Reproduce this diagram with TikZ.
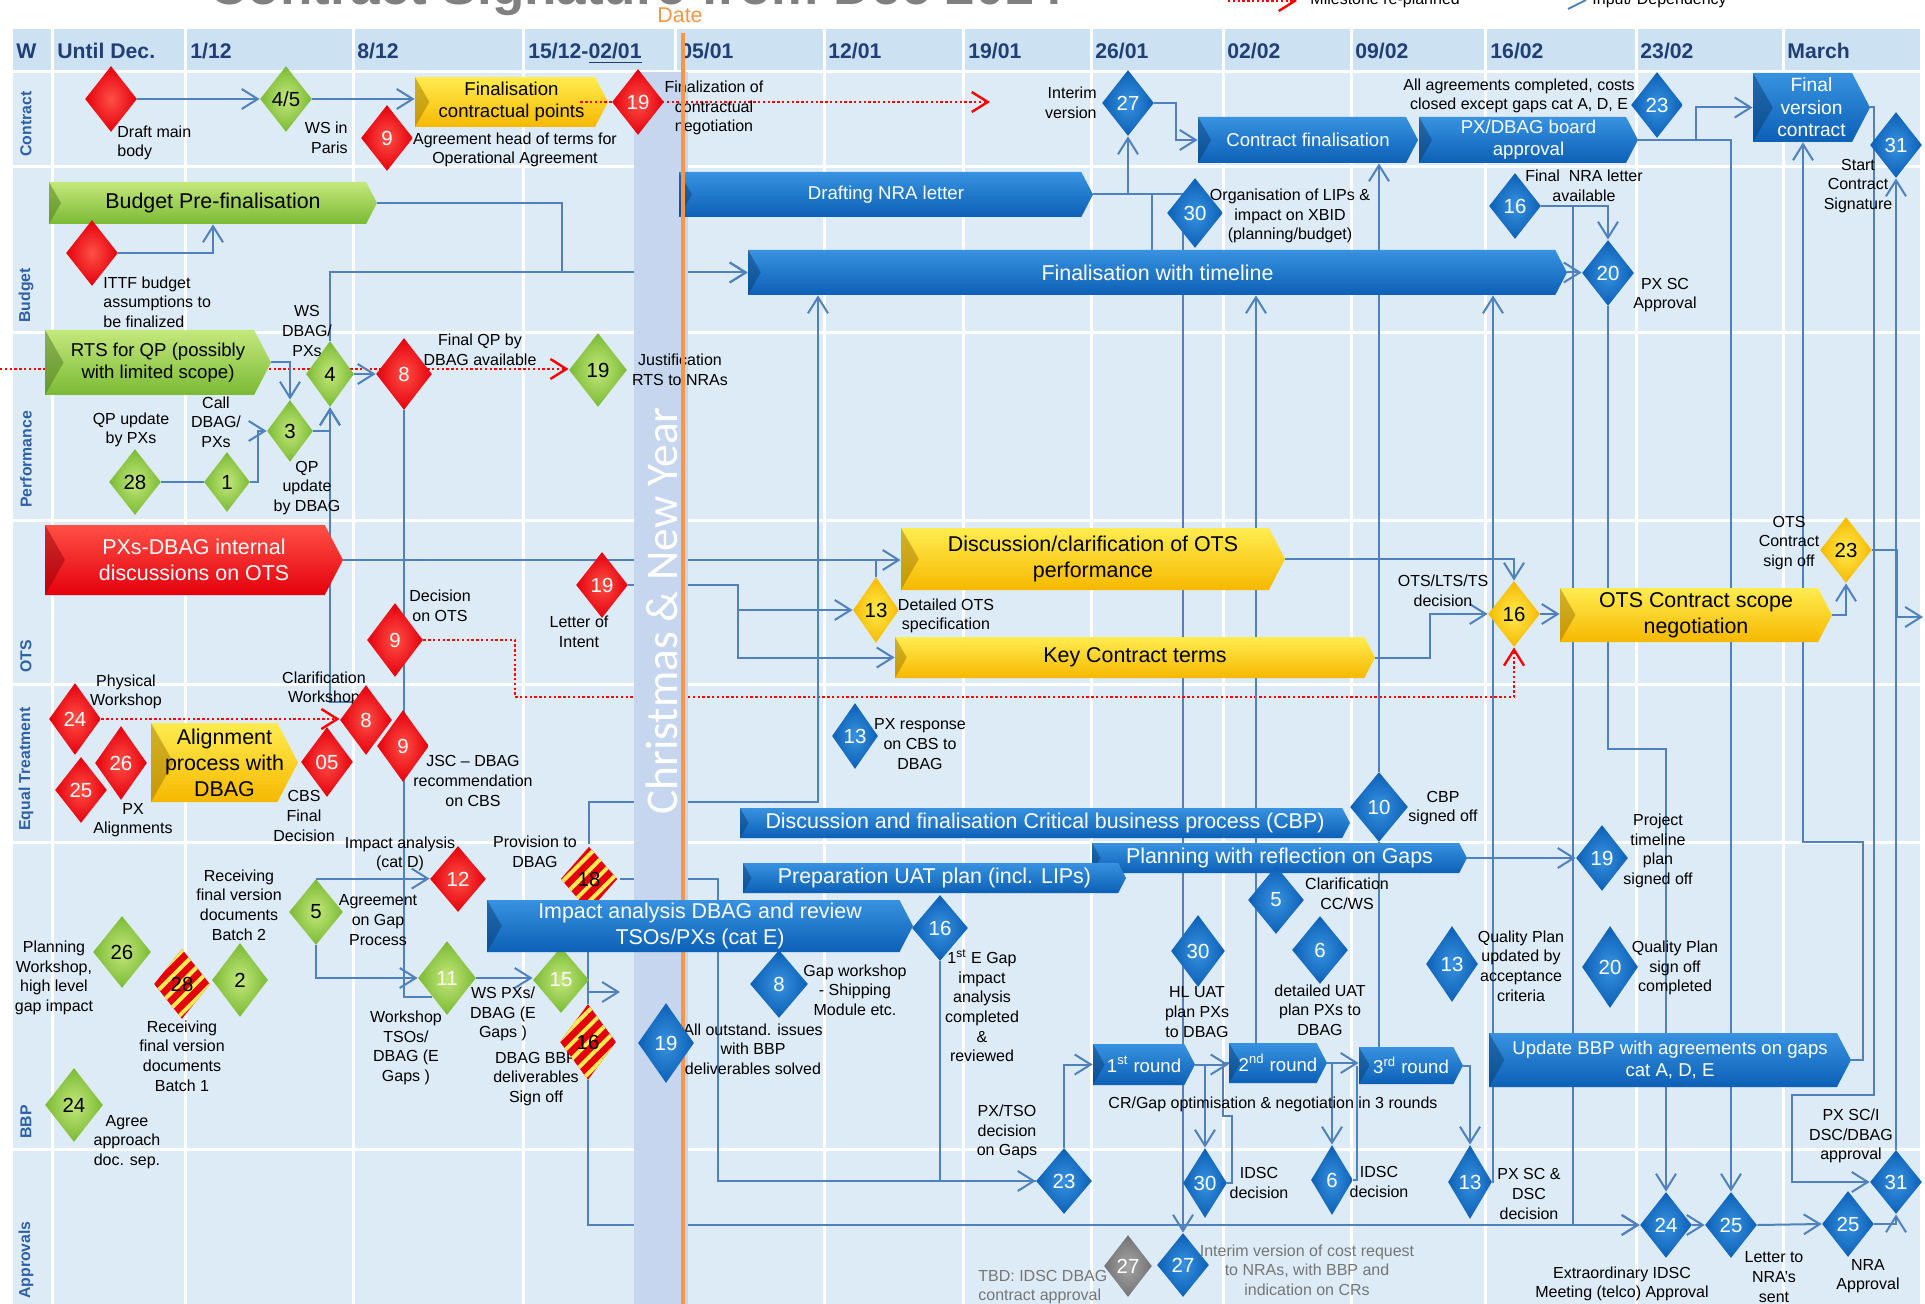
\documentclass[tikz,border=0pt]{standalone}
\usepackage{fontspec}
\setmainfont{Liberation Sans}
\newfontfamily\calibfont{Carlito}
\usetikzlibrary{shapes.geometric,arrows.meta,patterns.meta,calc}
\definecolor{depc}{RGB}{79,129,189}
\definecolor{cellc}{RGB}{221,235,246}
\definecolor{hcellc}{RGB}{204,225,241}
\definecolor{bandc}{RGB}{197,214,238}
\definecolor{navyc}{RGB}{31,63,118}
\definecolor{rowc}{RGB}{46,96,166}
\definecolor{orngc}{RGB}{247,150,70}
\definecolor{rdA}{RGB}{255,80,70}
\definecolor{rdB}{RGB}{228,0,12}
\definecolor{grA}{RGB}{196,232,124}
\definecolor{grB}{RGB}{122,186,52}
\definecolor{blA}{RGB}{56,146,224}
\definecolor{blB}{RGB}{12,96,182}
\definecolor{ylA}{RGB}{255,236,80}
\definecolor{ylB}{RGB}{246,184,0}
\definecolor{gyA}{RGB}{165,165,165}
\definecolor{gyB}{RGB}{115,115,115}
\definecolor{grayt}{RGB}{118,118,118}
\pgfdeclarelayer{bg}\pgfdeclarelayer{lines}\pgfdeclarelayer{band}\pgfdeclarelayer{top}
\pgfsetlayers{bg,lines,band,main,top}
\newcommand\lblf{\fontsize{8}{9.8}\selectfont}
\newcommand\numf{\fontsize{10.2}{12}\selectfont}
\newcommand\barf{\fontsize{10.7}{13}\selectfont}
\newcommand\barsf{\fontsize{9.3}{11}\selectfont}
\newcommand\hdrf{\bfseries\fontsize{10.6}{12}\selectfont}
\newcommand\rowf{\bfseries\fontsize{7.9}{9}\selectfont}
\newcommand\chev[8]{%
  \pgfmathsetmacro\mychd{(#5-#4)*0.26}%
  \path[top color=#6A, bottom color=#6B] (#2,#4) -- ({#3-\mychd},#4) -- (#3,{(#4+#5)/2}) -- ({#3-\mychd},#5) -- (#2,#5) -- cycle;
  \fill[#6B!60!black, opacity=0.45] (#2,#4) -- ({#2+1.1*\mychd},{#4+0.5*(#5-#4)}) -- (#2,#5) -- cycle;
  \node[#7, minimum width={(#3-#2)*0.5pt}, minimum height={(#5-#4)*0.5pt}] (#1) at ({(#2+#3)/2},{(#4+#5)/2}) {#8};
}
\tikzset{
  dep/.style={draw=depc, line width=1pt, -{Straight Barb[length=8pt,width=10pt]}},
  depn/.style={draw=depc, line width=1pt},
  miles/.style={draw=red, line width=1.2pt, dash pattern=on 1.2pt off 1.2pt, -{Straight Barb[length=8pt,width=10pt]}},
  milesn/.style={draw=red, line width=1.2pt, dash pattern=on 1.2pt off 1.2pt},
  dia/.style={shape=diamond, inner sep=0pt, minimum width=26pt, minimum height=33pt, font=\numf},
  rdia/.style={dia, inner color=rdA, outer color=rdB, text=white},
  gdia/.style={dia, inner color=grA, outer color=grB, text=black},
  gwdia/.style={gdia, text=white},
  bdia/.style={dia, inner color=blA, outer color=blB, text=white},
  ydia/.style={dia, inner color=ylA, outer color=ylB, text=black},
  kdia/.style={dia, inner color=gyA, outer color=gyB, text=white},
  sdia/.style={dia, preaction={fill=rdB}, pattern={Lines[angle=45,distance=5.5pt,line width=2pt]}, pattern color=ylA, text=black},
  lbl/.style={font=\lblf, align=center, inner sep=0pt, text=black},
  btw/.style={inner sep=0pt, align=center, text=white, font=\barf},
  btk/.style={inner sep=0pt, align=center, text=black, font=\barf},
  hdr/.style={font=\hdrf, text=navyc, anchor=base west, inner sep=0pt},
  rowl/.style={font=\rowf, text=rowc, rotate=90, anchor=west, inner sep=0pt},
}
\begin{document}
\begin{tikzpicture}[x=0.5pt,y=-0.5pt]
\useasboundingbox (0,0) rectangle (1925,1304);
% ---------- background grid
\begin{pgfonlayer}{bg}
\fill[white] (0,0) rectangle (1925,1304);
\fill[cellc] (13,29) rectangle (1920,1304);
\fill[hcellc] (13,29) rectangle (1920,72);
\foreach \x in {52,185,353,523,675,824,963,1091,1223,1351,1485,1636,1783}
  \draw[white, line width=1.5pt] (\x,29) -- (\x,1304);
\foreach \y in {72,167,333,520,684,842,1149}
  \draw[white, line width=1.5pt] (13,\y) -- (1920,\y);
\end{pgfonlayer}
% ---------- title and legend (cut at top)
\node[anchor=base west, inner sep=0pt, text=gray, font=\bfseries\fontsize{26.5}{30}\selectfont] (ttl) at (209,5) {Contract Signature from Dec 2014};
\coordinate (lg1) at (1228,1);
\coordinate (lg2) at (1297,1);
\draw[miles] (lg1) -- (lg2);
\node[lbl, anchor=base west] (lgt1) at (1310,5) {Milestone re-planned};
\coordinate (lg3) at (1568,9);
\coordinate (lg4) at (1586,0);
\draw[depn] (lg3) -- (lg4);
\node[lbl, anchor=base west] (lgt2) at (1592,5) {Input/ Dependency};
% ---------- header
\node[hdr] (h0) at (16,59) {W};
\node[hdr] (h1) at (57,59) {Until Dec.};
\node[hdr] (h2) at (190,59) {1/12};
\node[hdr] (h3) at (357,59) {8/12};
\node[hdr] (h4) at (528,59) {15/12-\underline{02/01}};
\node[hdr] (h5) at (680,59) {05/01};
\node[hdr] (h6) at (828,59) {12/01};
\node[hdr] (h7) at (968,59) {19/01};
\node[hdr] (h8) at (1095,59) {26/01};
\node[hdr] (h9) at (1227,59) {02/02};
\node[hdr] (h10) at (1355,59) {09/02};
\node[hdr] (h11) at (1490,59) {16/02};
\node[hdr] (h12) at (1640,59) {23/02};
\node[hdr] (h13) at (1787,59) {March};
% ---------- row labels
\node[rowl] (rl1) at (26,157) {Contract};
\node[rowl] (rl2) at (26,323) {Budget};
\node[rowl] (rl3) at (26,508) {Performance};
\node[rowl] (rl4) at (26,673) {OTS};
\node[rowl] (rl5) at (26,831) {Equal Treatment};
\node[rowl] (rl6) at (26,1139) {BBP};
\node[rowl] (rl7) at (26,1299) {Approvals};
% ---------- holiday band
\begin{pgfonlayer}{band}
\fill[bandc] (634,72) rectangle (688,1304);
\node[rotate=90, text=white, inner sep=0pt, font=\calibfont\fontsize{22.7}{24}\selectfont] (xmas) at (662,611) {Christmas \& New Year};
\end{pgfonlayer}
% ---------- bars
\chev{fcp}{415}{608}{77}{127}{yl}{btk,font=\barsf}{Finalisation\\contractual points}
\chev{cfin}{1198}{1418}{117}{163}{bl}{btw,font=\barsf}{Contract finalisation}
\chev{pxb}{1419}{1638}{117}{163}{bl}{btw,font=\barsf}{PX/DBAG board\\approval}
\chev{fvc}{1753}{1870}{73}{142}{bl}{btw,font=\fontsize{9.6}{11.2}\selectfont}{Final\\version\\contract}
\chev{bpf}{49}{377}{182}{224}{gr}{btk}{Budget Pre-finalisation}
\chev{dnra}{679}{1093}{172}{217}{bl}{btw,font=\barsf}{Drafting NRA letter}
\chev{fwt}{748}{1567}{250}{295}{bl}{btw}{Finalisation with timeline}
\chev{rts}{45}{271}{330}{395}{gr}{btk,font=\barsf}{RTS for QP (possibly\\with limited scope)}
\chev{pxd}{45}{343}{525}{595}{rd}{btw}{PXs-DBAG internal\\discussions on OTS}
\chev{dco}{901}{1285}{528}{590}{yl}{btk}{Discussion/clarification of OTS\\performance}
\chev{kct}{895}{1375}{637}{678}{yl}{btk}{Key Contract terms}
\chev{ocs}{1560}{1832}{588}{642}{yl}{btk}{OTS Contract scope\\negotiation}
\chev{apd}{151}{298}{723}{802}{yl}{btk}{Alignment\\process with\\DBAG}
\chev{dcbp}{740}{1350}{808}{838}{bl}{btw}{Discussion and finalisation Critical business process (CBP)}
\chev{pwg}{1092}{1467}{843}{873}{bl}{btw}{Planning with reflection on Gaps}
\chev{uat}{743}{1126}{863}{893}{bl}{btw}{Preparation UAT plan (incl. LIPs)}
\chev{rd1}{1093}{1195}{1044}{1085}{bl}{btw,font=\barsf}{1\textsuperscript{st} round}
\chev{rd2}{1229}{1327}{1043}{1083}{bl}{btw,font=\barsf}{2\textsuperscript{nd} round}
\chev{rd3}{1359}{1463}{1047}{1084}{bl}{btw,font=\barsf}{3\textsuperscript{rd} round}
\chev{ubbp}{1489}{1851}{1033}{1087}{bl}{btw,font=\barsf}{Update BBP with agreements on gaps\\cat A, D, E}
% red dotted re-planning of contract 19 (over the bar)
\coordinate (rp1) at (990,102);
\draw[miles] ([xshift=-14pt]fcp.east) -- (rp1);
% ---------- labels
\node[lbl, align=left, anchor=west] (L1) at (117,143) {Draft main\\body};
\node[lbl, align=right, anchor=east] (L2) at (348,138) {WS in\\Paris};
\node[lbl] (L3) at (515,150) {Agreement head of terms for\\Operational Agreement};
\node[lbl] (L4) at (714,108) {Finalization of\\contractual\\negotiation};
\node[lbl, align=right, anchor=east] (L5) at (1097,103) {Interim\\version};
\node[lbl] (L6) at (1519,96) {All agreements completed, costs\\closed except gaps cat A, D, E};
\node[lbl] (L7) at (1858,186) {Start\\Contract\\Signature};
\node[lbl, align=left, anchor=west] (L8) at (103,302) {ITTF budget\\assumptions to\\be finalized};
\node[lbl] (L9) at (1290,216) {Organisation of LIPs \&\\impact on XBID\\(planning/budget)};
\node[lbl] (L10) at (1584,186) {Final~ NRA letter\\available};
\node[lbl] (L11) at (1665,295) {PX SC\\Approval};
\node[lbl] (L12) at (307,331) {WS\\DBAG/\\PXs};
\node[lbl] (L13) at (480,350) {Final QP by\\DBAG available};
\node[lbl] (L14) at (680,370) {Justification\\RTS to NRAs};
\node[lbl] (L15) at (216,422) {Call\\DBAG/\\PXs};
\node[lbl] (L16) at (131,430) {QP update\\by PXs};
\node[lbl] (L17) at (307,488) {QP\\update\\by DBAG};
\node[lbl] (L18) at (579,632) {Letter of\\Intent};
\node[lbl] (L19) at (440,606) {Decision\\on OTS};
\node[lbl] (L20) at (946,616) {Detailed OTS\\specification};
\node[lbl] (L21) at (1443,591) {OTS/LTS/TS\\decision};
\node[lbl] (L22) at (1789,543) {OTS\\Contract\\sign off};
\node[lbl] (L23) at (126,692) {Physical\\Workshop};
\node[lbl] (L24) at (133,820) {PX\\Alignments};
\node[lbl] (L25) at (304,816) {CBS\\Final\\Decision};
\node[lbl] (L26) at (324,689) {Clarification\\Workshop};
\node[lbl] (L27) at (473,781) {JSC – DBAG\\recommendation\\on CBS};
\node[lbl] (L28) at (920,744) {PX response\\on CBS to\\DBAG};
\node[lbl] (L29) at (1443,808) {CBP\\signed off};
\node[lbl] (L30) at (1658,851) {Project\\timeline\\plan\\signed off};
\node[lbl] (L31) at (400,854) {Impact analysis\\(cat D)};
\node[lbl] (L32) at (535,852) {Provision to\\DBAG};
\node[lbl] (L33) at (239,905) {Receiving\\final version\\documents\\Batch 2};
\node[lbl] (L34) at (378,920) {Agreement\\on Gap\\Process};
\node[lbl] (L35) at (54,978) {Planning\\Workshop,\\high level\\gap impact};
\node[lbl] (L36) at (182,1056) {Receiving\\final version\\documents\\Batch 1};
\node[lbl] (L37) at (406,1048) {Workshop\\TSOs/\\DBAG (E\\Gaps )};
\node[lbl] (L38) at (503,1014) {WS PXs/\\DBAG (E\\Gaps )};
\node[lbl] (L39) at (536,1079) {DBAG BBP\\deliverables\\Sign off};
\node[lbl] (L40) at (753,1049) {All outstand. issues\\with BBP\\deliverables solved};
\node[lbl] (L41) at (855,990) {Gap workshop\\- Shipping\\Module etc.};
\node[lbl] (L42) at (982,1006) {1\textsuperscript{st} E Gap\\impact\\analysis\\completed\\\&\\reviewed};
\node[lbl] (L43) at (127,1142) {Agree\\approach\\doc. sep.};
\node[lbl] (L44) at (1197,1012) {HL UAT\\plan PXs\\to DBAG};
\node[lbl] (L45) at (1347,894) {Clarification\\CC/WS};
\node[lbl] (L46) at (1320,1010) {detailed UAT\\plan PXs to\\DBAG};
\node[lbl] (L47) at (1521,966) {Quality Plan\\updated by\\acceptance\\criteria};
\node[lbl] (L48) at (1675,968) {Quality Plan\\sign off\\completed};
\node[lbl] (L49) at (1273,1104) {CR/Gap optimisation \& negotiation in 3 rounds};
\node[lbl] (L50) at (1007,1132) {PX/TSO\\decision\\on Gaps};
\node[lbl] (L51) at (1259,1183) {IDSC\\decision};
\node[lbl] (L52) at (1379,1182) {IDSC\\decision};
\node[lbl] (L53) at (1529,1194) {PX SC \&\\DSC\\decision};
\node[lbl, align=left, anchor=west, text=grayt] (L54) at (978,1287) {TBD: IDSC DBAG\\contract approval};
\node[lbl, text=grayt] (L55) at (1307,1270) {Interim version of cost request\\to NRAs, with BBP and\\indication on CRs};
\node[lbl] (L56) at (1622,1284) {Extraordinary IDSC\\Meeting (telco) Approval};
\node[lbl] (L57) at (1774,1277) {Letter to\\NRA’s\\sent};
\node[lbl] (L58) at (1868,1276) {NRA\\Approval};
\node[lbl] (L59) at (1851,1136) {PX SC/I\\DSC/DBAG\\approval};
% ---------- milestones
\node[rdia] (dmb) at (111,99) {};
\node[gdia] (c45) at (286,99) {4/5};
\node[rdia] (c9) at (387,138) {9};
\node[rdia] (c19) at (638,102) {19};
\node[bdia] (c27) at (1128,103) {27};
\node[bdia] (c23) at (1657,105) {23};
\node[bdia] (c31) at (1896,145) {31};
\node[rdia] (ittf) at (92,253) {};
\node[bdia, minimum width=28pt, minimum height=35pt] (b30) at (1195,213) {30};
\node[bdia] (b16) at (1515,206) {16};
\node[bdia] (b20) at (1608,273) {20};
\node[gdia, minimum width=24pt] (p4) at (330,374) {4};
\node[rdia, minimum width=28pt, minimum height=36pt] (p8) at (404,374) {8};
\node[gdia, minimum width=29pt, minimum height=37pt] (p19) at (598,370) {19};
\node[gdia, minimum width=23pt, minimum height=31pt] (p3) at (290,431) {3};
\node[gdia] (p28) at (135,482) {28};
\node[gdia, minimum width=23pt, minimum height=30pt] (p1) at (227,482) {1};
\node[rdia] (o19) at (602,585) {19};
\node[rdia, minimum width=28pt, minimum height=37pt] (o9) at (395,640) {9};
\node[ydia, minimum width=23pt] (o13) at (876,610) {13};
\node[ydia] (o16) at (1514,614) {16};
\node[ydia] (o23) at (1846,550) {23};
\node[rdia, minimum height=36pt] (e24) at (75,719) {24};
\node[rdia] (e25) at (81,790) {25};
\node[rdia, minimum height=37pt] (e26) at (121,763) {26};
\node[rdia, minimum height=35pt] (e05) at (327,762) {05};
\node[rdia, minimum height=35pt] (e8) at (366,720) {8};
\node[rdia, minimum height=36pt] (e9) at (403,746) {9};
\node[bdia, minimum width=23pt] (e13) at (855,736) {13};
\node[bdia, minimum width=29pt, minimum height=35pt] (e10) at (1379,807) {10};
\node[bdia] (e19) at (1602,858) {19};
\node[sdia, minimum width=29pt] (s18) at (589,879) {18};
\node[rdia, minimum width=28pt] (b12) at (458,879) {12};
\node[bdia, minimum width=28pt] (g16) at (940,928) {16};
\node[bdia, minimum width=29pt, minimum height=34pt] (g8) at (779,984) {8};
\node[gdia, minimum width=29pt, minimum height=36pt] (g26) at (122,952) {26};
\node[sdia, minimum width=28pt, minimum height=35pt] (s28) at (182,984) {28};
\node[gdia, minimum width=28pt, minimum height=37pt] (g2) at (240,980) {2};
\node[gdia, minimum width=27pt] (g5) at (316,912) {5};
\node[gwdia, minimum width=29pt, minimum height=37pt] (g11) at (447,978) {11};
\node[gwdia, minimum width=28pt] (g15) at (561,980) {15};
\node[sdia, minimum width=28pt, minimum height=38pt] (s16) at (588,1042) {16};
\node[gdia, minimum width=29pt, minimum height=37pt] (g24) at (74,1105) {24};
\node[bdia, minimum width=27pt, minimum height=36pt] (g30) at (1198,951) {30};
\node[bdia, minimum width=28pt, minimum height=34pt] (g5b) at (1276,900) {5};
\node[bdia, minimum width=28pt, minimum height=34pt] (g6) at (1320,950) {6};
\node[bdia, minimum width=26pt, minimum height=38pt] (g13) at (1452,964) {13};
\node[bdia, minimum width=28pt, minimum height=41pt] (g20) at (1610,967) {20};
\node[bdia, minimum width=28pt] (a23) at (1064,1181) {23};
\node[bdia, minimum width=22pt, minimum height=35pt] (a30) at (1205,1183) {30};
\node[bdia, minimum width=21pt, minimum height=35pt] (a6) at (1332,1180) {6};
\node[bdia, minimum width=22pt, minimum height=37pt] (a13) at (1470,1182) {13};
\node[kdia, minimum width=24pt, minimum height=31pt] (a27g) at (1128,1266) {27};
\node[bdia, minimum width=26pt, minimum height=32pt] (a27) at (1183,1265) {27};
\node[bdia] (a24) at (1666,1225) {24};
\node[bdia] (a25l) at (1731,1225) {25};
\node[bdia] (a25n) at (1848,1224) {25};
\node[bdia, minimum height=32pt] (a31) at (1896,1182) {31};
% ---------- date line, and the items drawn over it
\begin{pgfonlayer}{top}
\coordinate (dl1) at (683,33);
\coordinate (dl2) at (683,1304);
\draw[orngc, line width=2pt] (dl1) -- (dl2);
\node[text=orngc, font=\barf, inner sep=0pt] (dt) at (680,15) {Date};
\chev{iad}{487}{913}{900}{952}{bl}{btw}{Impact analysis DBAG and review\\TSOs/PXs (cat E)}
\node[bdia, minimum width=28pt, minimum height=40pt] (g19) at (666,1043) {19};
\end{pgfonlayer}
% ---------- connectors
\coordinate (lft) at (0,369);
\coordinate (rgt) at (1923,617);
\coordinate (q1) at (620,992);
\begin{pgfonlayer}{lines}
% contract
\draw[dep] (dmb.east) -- (c45.west);
\draw[dep] (c45.east) -- (c45.east -| fcp.west);
\draw[dep] (c27.east) -- ++(22,0) |- (cfin.west);
\draw[dep] (pxb.east) -| (a25l.north);
\draw[dep] (pxb.east) -- ++(58,0) |- (fvc.west);
\draw[dep] (fvc.east) -| (1874,1095) -- (1792,1095) |- (a31.west);
\draw[dep] (a31.north) -- (c31.south);
\draw[dep] (a25n.east) -| (a31.south);
% budget
\draw[dep] (bpf.east) -- (562,203) |- (fwt.west);
\draw[dep] (ittf.east) -| (bpf.south);
\draw[dep] (dnra.east) -| (c27.south);
\draw[dep] (dnra.east) -| (a27.north);
\draw[depn] (1152,0 |- dnra.east) -- (1152,0 |- fwt.north);
\draw[dep] (fwt.east) -- (fwt.east -| b20.west);
\draw[dep] (b16.east) -| (b20.north);
\draw[dep] (b16.east) -| (1573,1225) -- (a24.west);
\draw[dep] (b20.south) -- (1608,749) -| (a24.north);
\draw[dep] (a13.east) -| (1493,0 |- fwt.south);
\draw[dep] (ubbp.east) -- (1863,1060) -- (1863,842) -| (1803,0 |- fvc.south);
% performance
\draw[miles] (lft) -- (lft -| p19.west);
\draw[dep] (rts.east) -| (p3.north);
\draw[dep] (p3.east) -| (p4.south);
\draw[dep] (p1.east) -- (258,482) |- (p3.west);
\draw[depn] (p28.east) -- (p1.west);
\draw[dep] (p4.east) -- (p8.west);
\draw[dep] (p4.north) |- (fwt.west);
\draw[dep] (e8.north west) -| (p4.south);
\draw[depn] (p8.south) |- (g11.south west);
% OTS
\draw[dep] (pxd.east) -- (pxd.east -| dco.west);
\draw[depn] (o13.north) -- (o13.north |- pxd.east);
\draw[dep] (o19.east) -- (738,585) |- (o13.west);
\draw[dep] (o19.east) -- (738,585) |- (kct.west);
\draw[dep] (dco.east) -| (o16.north);
\draw[dep] (kct.east) -- (1430,657.5) |- (o16.west);
\draw[dep] (o16.east) -- (o16.east -| ocs.west);
\draw[dep] (ocs.east) -| (o23.south);
\draw[dep] (o23.east) -- (1897,550) |- (rgt);
\draw[miles] (o9.east) -| (515,697) -| (o16.south);
% equal treatment
\draw[miles] (e24.east) -- (e24.east -| e8.west);
\draw[dep] (s18.north) |- (818,802) -- (818,0 |- fwt.south);
\draw[dep] (e10.north) -- (e10.north |- cfin.south);
\draw[depn] (e10.south |- rd3.north) -- (e10.south);
\draw[dep] (1256,0 |- rd2.north) -- (1256,0 |- fwt.south);
\draw[dep] (pwg.east) -- (pwg.east -| e19.west);
% BBP
\draw[dep] (s18.east) -- (718,879) |- (a23.west);
\draw[depn] (g16.south) |- (a23.west);
\draw[dep] (g5.north) -- (g5.north -| b12.west);
\draw[dep] (g5.south) |- (g11.west);
\draw[dep] (g11.east) -- (g11.east -| g15.west);
\draw[dep] (g15.east |- q1) -- (q1);
\draw[depn] (iad.south -| s16.north) -- (s16.north);
\draw[dep] (s16.south) |- (a24.west);
\draw[dep] (a23.north) |- (rd1.west);
\draw[dep] (rd1.east) -- (rd1.east -| rd2.west);
\draw[dep] (rd1.east) -| (a30.north);
\draw[depn] (a30.east) -- ++(5,0) |- ++(-9,-67) |- (rd2.west);
\draw[dep] (rd2.east) -- (rd2.east -| rd3.west);
\draw[dep] (rd2.east) -| (a6.north);
\draw[depn] (a6.east) -| ([xshift=-1pt]rd3.west);
\draw[dep] (rd3.east) -| (a13.north);
\draw[dep] (a24.east) -- (a25l.west);
\draw[dep] (a25l.east) -- (a25n.west);
\end{pgfonlayer}
\end{tikzpicture}
\end{document}
